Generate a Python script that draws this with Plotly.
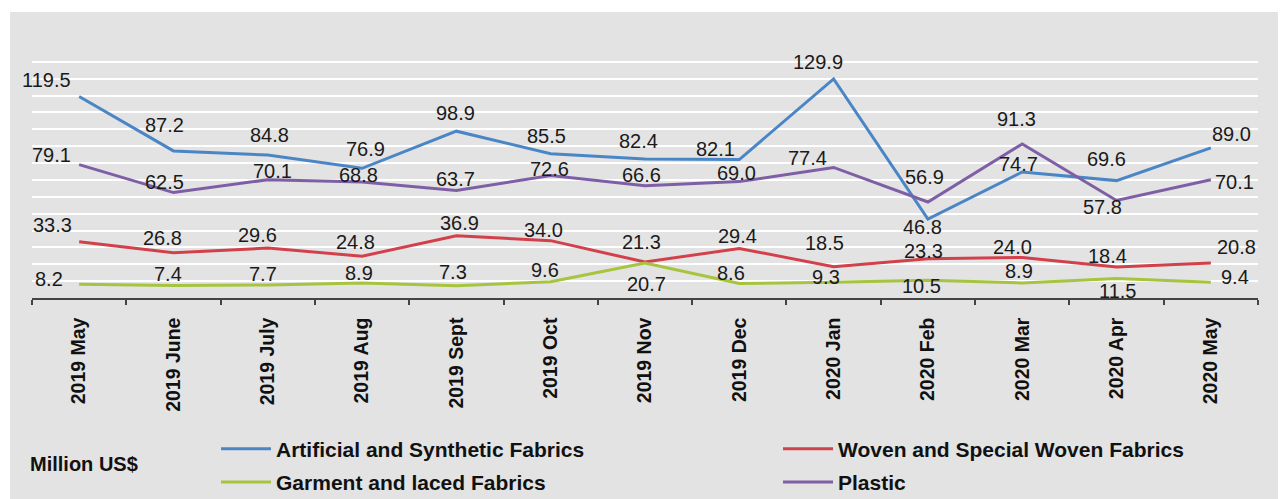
import plotly.graph_objects as go

months = ["2019 May", "2019 June", "2019 July", "2019 Aug", "2019 Sept", "2019 Oct",
          "2019 Nov", "2019 Dec", "2020 Jan", "2020 Feb", "2020 Mar", "2020 Apr", "2020 May"]

artificial = [119.5, 87.2, 84.8, 76.9, 98.9, 85.5, 82.4, 82.1, 129.9, 46.8, 74.7, 69.6, 89.0]
woven = [33.3, 26.8, 29.6, 24.8, 36.9, 34.0, 21.3, 29.4, 18.5, 23.3, 24.0, 18.4, 20.8]
garment = [8.2, 7.4, 7.7, 8.9, 7.3, 9.6, 20.7, 8.6, 9.3, 10.5, 8.9, 11.5, 9.4]
plastic = [79.1, 62.5, 70.1, 68.8, 63.7, 72.6, 66.6, 69.0, 77.4, 56.9, 91.3, 57.8, 70.1]

names = ["Artificial and Synthetic Fabrics", "Woven and Special Woven Fabrics",
         "Garment and laced Fabrics", "Plastic"]
colors = ["#4a86c6", "#d2404b", "#a6c43e", "#7e5fa6"]
legends = ["legend", "legend2", "legend", "legend2"]

# label offsets in pixels (dx, dy with dy positive = upward)
off_artificial = [(-33, 16), (-9, 26), (2, 20), (3, 19), (-1, 18), (-4, 18), (-7, 18),
                  (-24, 11), (-16, 17), (-5, -8), (-4, 8), (-10, 22), (21, 14)]
off_woven = [(-27, 17), (-11, 15), (-10, 13), (-7, 14), (3, 13), (-7, 11), (-4, 20),
             (-2, 12), (-9, 24), (-4, 8), (-10, 11), (-9, 11), (26, 16)]
off_garment = [(-30, 5), (-5, 12), (-5, 11), (-3, 10), (-3, 14), (-6, 12), (1, -21),
               (-8, 10), (-8, 5), (-6, -6), (-3, 12), (1, -12), (24, 5)]
off_plastic = [(-28, 10), (-9, 11), (5, 9), (-4, 7), (-1, 12), (-1, 7), (-4, 11),
               (-3, 9), (-26, 9), (-3, 25), (-6, 25), (-14, -6), (24, -2)]

series = [artificial, woven, garment, plastic]
offsets = [off_artificial, off_woven, off_garment, off_plastic]

FONT = "Liberation Sans, Arial, sans-serif"

fig = go.Figure()
for i, (vals, name, col, lg) in enumerate(zip(series, names, colors, legends)):
    fig.add_trace(go.Scatter(x=months, y=vals, mode="lines", name=name,
                             line=dict(color=col, width=3), legend=lg,
                             legendgroup=f"g{i}", hoverinfo="skip"))

annotations = []
for vals, offs in zip(series, offsets):
    for m, v, (dx, dy) in zip(months, vals, offs):
        annotations.append(dict(x=m, y=v, xref="x", yref="y", text=f"{v:.1f}",
                                showarrow=False, xshift=dx, yshift=dy,
                                font=dict(family=FONT, size=20, color="#1a1a1a")))

annotations.append(dict(x=0.0428, y=-0.656, xref="paper", yref="paper",
                        text="<b>Million US$</b>", showarrow=False,
                        xanchor="center", yanchor="middle",
                        font=dict(family=FONT, size=20, color="#111111")))

legend_common = dict(yanchor="top", xanchor="left", orientation="v",
                     bgcolor="rgba(0,0,0,0)", itemwidth=50, tracegroupgap=3,
                     font=dict(family=FONT, size=21, color="#111111", weight="bold"))

fig.update_layout(
    width=1282, height=499,
    margin=dict(l=32, r=24, t=45, b=201, autoexpand=False),
    paper_bgcolor="white",
    plot_bgcolor="rgba(0,0,0,0)",
    showlegend=True,
    annotations=annotations,
    shapes=[dict(type="rect", xref="paper", yref="paper",
                 x0=-0.0179, x1=1.0163, y0=-0.9, y1=1.1304,
                 fillcolor="#e3e3e3", line=dict(width=0), layer="below")],
    legend=dict(x=0.1501, y=-0.516, **legend_common),
    legend2=dict(x=0.6085, y=-0.516, **legend_common),
    xaxis=dict(type="category", range=[-0.5, 12.5], tickangle=-90, automargin=False,
               tickson="boundaries", ticks="outside", ticklen=5, tickwidth=1.5,
               tickcolor="#444444", showline=True, linecolor="#444444", linewidth=1.5,
               showgrid=False, ticklabelstandoff=10,
               tickfont=dict(family=FONT, size=19.5, color="#111111", weight="bold")),
    yaxis=dict(range=[0, 150], dtick=10, showticklabels=False, showgrid=True,
               automargin=False,
               gridcolor="white", gridwidth=2, zeroline=False, showline=False),
)

fig.write_html(
    "out.html",
    config={"displayModeBar": False},
    post_script="document.documentElement.style.margin='0';"
                "document.body.style.margin='0';"
                "document.body.style.overflow='hidden';",
)
